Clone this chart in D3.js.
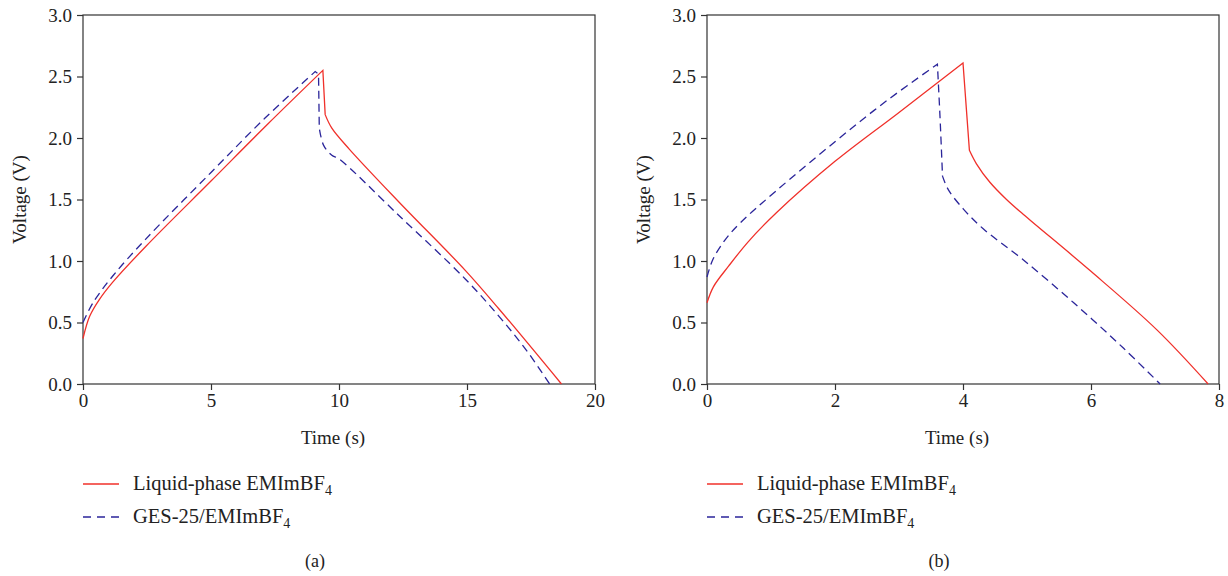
<!DOCTYPE html>
<html>
<head>
  <script src="https://d3js.org/d3.v7.min.js"></script>
  <style>
    body { margin: 0; background: #fff; }
    svg text { font-family: "Liberation Serif", "Times New Roman", serif; fill: #222; }
    .axis path, .axis line { stroke: #333; stroke-width: 1.2px; }
    .frame { fill: none; stroke: #333; stroke-width: 1.2px; }
  </style>
</head>
<body>
  <svg width="1228" height="576"></svg>

  <script>
    // data
    // panel (a)
    const aLiquidT = [0, 0.26, 0.65, 1.17, 2.46, 5.0, 7.2, 9.37, 9.46, 9.72, 10.4, 12.34, 14.95, 16.25, 18.69];
    const aLiquidV = [0.37, 0.55, 0.69, 0.83, 1.12, 1.65, 2.11, 2.55, 2.19, 2.08, 1.91, 1.48, 0.92, 0.61, 0];
    const aGesT = [0, 0.39, 1.17, 2.46, 5.0, 7.1, 9.07, 9.2, 9.23, 9.4, 9.72, 10.0, 12.34, 14.95, 16.25, 17.3, 18.23];
    const aGesV = [0.50, 0.66, 0.88, 1.18, 1.72, 2.16, 2.54, 2.52, 2.08, 1.94, 1.86, 1.83, 1.37, 0.85, 0.55, 0.28, 0];
    // panel (b)
    const bLiquidT = [0, 0.10, 0.34, 0.65, 1.08, 2.0, 2.98, 4.0, 4.10, 4.21, 4.42, 4.68, 4.94, 5.99, 7.03, 7.83];
    const bLiquidV = [0.66, 0.79, 0.96, 1.16, 1.39, 1.81, 2.20, 2.61, 1.90, 1.79, 1.64, 1.50, 1.38, 0.92, 0.44, 0];
    const bGesT = [0, 0.09, 0.28, 0.52, 1.08, 2.0, 2.80, 3.60, 3.64, 3.68, 3.77, 4.01, 4.32, 4.94, 5.73, 6.51, 7.08];
    const bGesV = [0.87, 1.01, 1.17, 1.31, 1.57, 1.97, 2.30, 2.60, 2.18, 1.69, 1.58, 1.42, 1.26, 1.01, 0.66, 0.29, 0];

    // indices where the curve has a sharp corner (end of charge, foot of IR drop)
    const aLiquidKinks = [7, 8];
    const aGesKinks = [6, 7, 8];
    const bLiquidKinks = [7, 8];
    const bGesKinks = [7, 9];

    const yTicks = [0, 0.5, 1.0, 1.5, 2.0, 2.5, 3.0];
    const aXTicks = [0, 5, 10, 15, 20];
    const bXTicks = [0, 2, 4, 6, 8];

    const svg = d3.select("svg");

    const red = "#f0302a";
    const blue = "#2b259a";

    function toPoints(ts, vs) {
      return ts.map((t, i) => [t, vs[i]]);
    }

    // smooth inside each piece, sharp at the kinks, one continuous path
    function piecewisePath(line, pts, kinks) {
      const cuts = [0, ...kinks, pts.length - 1];
      let d = "";
      for (let i = 0; i < cuts.length - 1; i++) {
        const part = line(pts.slice(cuts[i], cuts[i + 1] + 1));
        d += i === 0 ? part : "L" + part.slice(1);
      }
      return d;
    }

    function panel(left, xMax, xTicks, liquid, liquidKinks, ges, gesKinks, tag) {
      const w = 512, top = 15, h = 369;
      const g = svg.append("g").attr("transform", `translate(${left},${top})`);

      const x = d3.scaleLinear().domain([0, xMax]).range([0, w]);
      const y = d3.scaleLinear().domain([0, 3]).range([h, 0]);

      g.append("rect").attr("class", "frame").attr("width", w).attr("height", h);

      g.append("g").attr("class", "axis")
        .call(d3.axisLeft(y).tickValues(yTicks).tickFormat(d3.format(".1f")).tickSize(6).tickPadding(5))
        .call(a => a.selectAll("text").style("font-size", "19px").attr("fill", "#222"))
        .call(a => a.select(".domain").remove());

      g.append("g").attr("class", "axis")
        .attr("transform", `translate(0,${h})`)
        .call(d3.axisBottom(x).tickValues(xTicks).tickFormat(d3.format("d")).tickSize(6).tickPadding(4))
        .call(a => a.selectAll("text").style("font-size", "19px").attr("fill", "#222"))
        .call(a => a.select(".domain").remove());

      const line = d3.line()
        .x(d => x(d[0])).y(d => y(d[1]))
        .curve(d3.curveCatmullRom.alpha(0.5));

      g.append("path")
        .attr("d", piecewisePath(line, ges, gesKinks))
        .attr("fill", "none")
        .attr("stroke", blue)
        .attr("stroke-width", 1.3)
        .attr("stroke-dasharray", "8,5");

      g.append("path")
        .attr("d", piecewisePath(line, liquid, liquidKinks))
        .attr("fill", "none")
        .attr("stroke", red)
        .attr("stroke-width", 1.3);

      // axis titles
      g.append("text")
        .attr("transform", `translate(${-57},${h / 2}) rotate(-90)`)
        .attr("text-anchor", "middle")
        .style("font-size", "19px")
        .text("Voltage (V)");

      g.append("text")
        .attr("x", w / 2 - 6)
        .attr("y", h + 60)
        .attr("text-anchor", "middle")
        .style("font-size", "19px")
        .text("Time (s)");

      // legend
      const lg = g.append("g").attr("transform", `translate(0,${h + 100})`);
      const items = [
        { label: "Liquid-phase EMImBF", color: red, dash: null },
        { label: "GES-25/EMImBF", color: blue, dash: "8,6" }
      ];
      items.forEach((it, i) => {
        const yy = i * 33;
        lg.append("line")
          .attr("x1", 0).attr("x2", 36)
          .attr("y1", yy).attr("y2", yy)
          .attr("stroke", it.color)
          .attr("stroke-width", 1.3)
          .attr("stroke-dasharray", it.dash);
        const t = lg.append("text")
          .attr("x", 50).attr("y", yy + 6)
          .style("font-size", "20.5px");
        t.append("tspan").text(it.label);
        t.append("tspan").attr("dy", 5).style("font-size", "14px").text("4");
      });

      g.append("text")
        .attr("x", w / 2 - 24)
        .attr("y", h + 183)
        .attr("text-anchor", "middle")
        .style("font-size", "18px")
        .text(tag);
    }

    panel(83, 20, aXTicks, toPoints(aLiquidT, aLiquidV), aLiquidKinks, toPoints(aGesT, aGesV), aGesKinks, "(a)");
    panel(707, 8, bXTicks, toPoints(bLiquidT, bLiquidV), bLiquidKinks, toPoints(bGesT, bGesV), bGesKinks, "(b)");
  </script>
</body>
</html>
